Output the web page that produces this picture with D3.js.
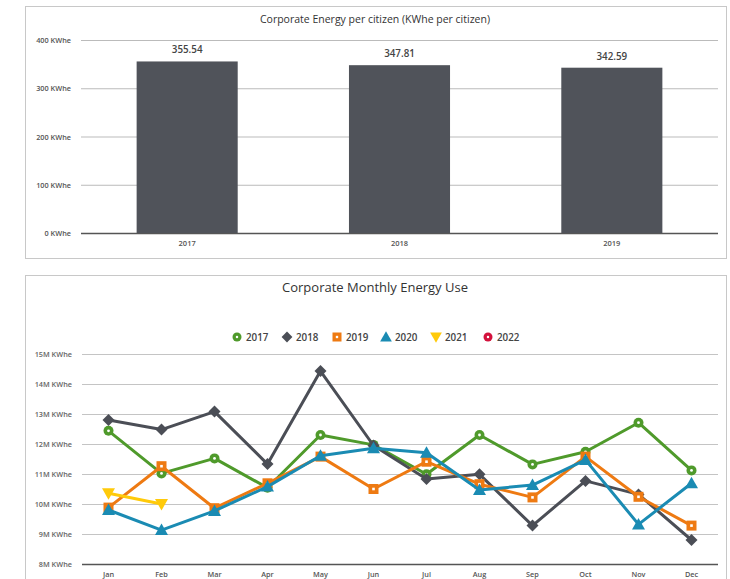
<!DOCTYPE html>
<html><head><meta charset="utf-8">
<script src="https://cdn.jsdelivr.net/npm/d3@7"></script>
<style>
body{margin:0;background:#fff;font-family:"Open Sans","DejaVu Sans",sans-serif;}
svg{display:block}
</style></head><body>
<svg id="c" width="730" height="579"></svg>
<script>
// ---- Data: top chart ----
const barYears = ["2017","2018","2019"];
const barValues = [355.54, 347.81, 342.59];
const barTicks = [0,100,200,300,400];

// ---- Data: bottom chart ----
const months = ["Jan","Feb","Mar","Apr","May","Jun","Jul","Aug","Sep","Oct","Nov","Dec"];
const lineYears = ["2017","2018","2019","2020","2021","2022"];
const s2017 = [12.44,11.02,11.52,10.54,12.30,11.97,10.99,12.30,11.32,11.74,12.71,11.12];
const s2018 = [12.80,12.48,13.08,11.33,14.43,11.95,10.83,10.99,9.28,10.77,10.32,8.80];
const s2019 = [9.88,11.26,9.86,10.69,11.58,10.50,11.41,10.66,10.22,11.58,10.24,9.28];
const s2020 = [9.80,9.13,9.77,10.58,11.61,11.86,11.71,10.47,10.63,11.47,9.32,10.69];
const s2021 = [10.36,10.00];
const s2022 = [];
const lineTicks = [8,9,10,11,12,13,14,15];

const colors = ["#4f9a2b","#4b4e56","#ee7a12","#1a8bb3","#ffca0a","#d3113c"];
const symbols = ["circle","diamond","square","triangle","triangleDown","circle"];
const seriesData = [s2017,s2018,s2019,s2020,s2021,s2022];

const svg = d3.select("#c");

// ---------- Top panel ----------
svg.append("rect").attr("x",25.5).attr("y",6.5).attr("width",701).attr("height",252)
  .attr("fill","#fff").attr("stroke","#c8c8c8");
svg.append("text").attr("x",375).attr("y",23).attr("text-anchor","middle")
  .attr("font-size",10.5).attr("fill","#333").text("Corporate Energy per citizen (KWhe per citizen)");

const tx = d3.scaleBand().domain(barYears).range([81,718]).paddingInner(0.524).paddingOuter(0.262);
const ty = d3.scaleLinear().domain([0,400]).range([233,40]);

const tg = svg.append("g");
tg.selectAll("line.g").data(barTicks).join("line")
  .attr("x1",81).attr("x2",718).attr("y1",d=>ty(d)+0.5).attr("y2",d=>ty(d)+0.5)
  .attr("stroke",d=>d===0?"#555":"#bbb").attr("stroke-width",d=>d===0?1.5:1);
tg.selectAll("text.t").data(barTicks).join("text")
  .attr("x",71).attr("y",d=>ty(d)+3).attr("text-anchor","end")
  .attr("font-size",7.3).attr("font-weight",600).attr("fill","#555").text(d=>d+" KWhe");
tg.selectAll("rect.b").data(barValues).join("rect")
  .attr("x",(d,i)=>tx(barYears[i])).attr("width",tx.bandwidth())
  .attr("y",d=>ty(d)).attr("height",d=>ty(0)-ty(d)).attr("fill","#50535a");
tg.selectAll("text.v").data(barValues).join("text")
  .attr("x",(d,i)=>tx(barYears[i])+tx.bandwidth()/2).attr("y",d=>ty(d)-8)
  .attr("text-anchor","middle").attr("font-size",9.8).attr("font-weight",600).attr("fill","#444").text(d=>d.toFixed(2));
tg.selectAll("text.c").data(barYears).join("text")
  .attr("x",d=>tx(d)+tx.bandwidth()/2).attr("y",246).attr("text-anchor","middle")
  .attr("font-size",7.5).attr("font-weight",600).attr("fill","#555").text(d=>d);

// ---------- Bottom panel ----------
svg.append("rect").attr("x",25.5).attr("y",275.5).attr("width",701).attr("height",320)
  .attr("fill","#fff").attr("stroke","#c8c8c8");
svg.append("text").attr("x",375).attr("y",292).attr("text-anchor","middle")
  .attr("font-size",13).attr("fill","#333").text("Corporate Monthly Energy Use");

const bx = d3.scaleBand().domain(months).range([82,718]);
const by = d3.scaleLinear().domain([8,15]).range([564,354]);
const cx = m => bx(m)+bx.bandwidth()/2;

const bg = svg.append("g");
bg.selectAll("line.g").data(lineTicks).join("line")
  .attr("x1",82).attr("x2",718).attr("y1",d=>by(d)+0.5).attr("y2",d=>by(d)+0.5)
  .attr("stroke",d=>d===8?"#555":"#c4c4c4").attr("stroke-width",d=>d===8?1.5:1.2);
bg.selectAll("text.t").data(lineTicks).join("text")
  .attr("x",72).attr("y",d=>by(d)+3).attr("text-anchor","end")
  .attr("font-size",7.3).attr("font-weight",600).attr("fill","#666").text(d=>d+"M KWhe");
bg.selectAll("text.m").data(months).join("text")
  .attr("x",d=>cx(d)).attr("y",577).attr("text-anchor","middle")
  .attr("font-size",7.3).attr("font-weight",600).attr("fill","#555").text(d=>d);

function drawMarker(g, type, x, y, col, s){
  s = s||1;
  if(type==="circle"){
    g.append("circle").attr("cx",x).attr("cy",y).attr("r",5*s).attr("fill",col);
    g.append("circle").attr("cx",x).attr("cy",y).attr("r",1.4*s).attr("fill","#fff");
  } else if(type==="square"){
    g.append("rect").attr("x",x-5*s).attr("y",y-5*s).attr("width",10*s).attr("height",10*s).attr("fill",col);
    g.append("rect").attr("x",x-1.3*s).attr("y",y-1.3*s).attr("width",2.6*s).attr("height",2.6*s).attr("fill","#fff");
  } else if(type==="diamond"){
    g.append("path").attr("d",`M${x},${y-6*s}L${x+6*s},${y}L${x},${y+6*s}L${x-6*s},${y}Z`).attr("fill",col);
  } else if(type==="triangle"){
    g.append("path").attr("d",`M${x},${y-6.5*s}L${x+6.5*s},${y+5*s}L${x-6.5*s},${y+5*s}Z`).attr("fill",col);
  } else if(type==="triangleDown"){
    g.append("path").attr("d",`M${x-6.5*s},${y-5*s}L${x+6.5*s},${y-5*s}L${x},${y+6.5*s}Z`).attr("fill",col);
  }
}

const line = d3.line().x((d,i)=>cx(months[i])).y(d=>by(d));
seriesData.forEach((arr,k)=>{
  if(!arr.length) return;
  const g = bg.append("g");
  g.append("path").attr("d",line(arr)).attr("fill","none")
    .attr("stroke",colors[k]).attr("stroke-width",3).attr("stroke-linejoin","round");
  arr.forEach((v,i)=>drawMarker(g,symbols[k],cx(months[i]),by(v),colors[k]));
});

// legend
const legX = [237,287,337,386,436,488];
const lg = svg.append("g");
lineYears.forEach((y,k)=>{
  drawMarker(lg,symbols[k],legX[k],337,colors[k],0.9);
  lg.append("text").attr("x",legX[k]+9).attr("y",341).attr("font-size",9.8).attr("font-weight",600)
    .attr("fill","#444").text(y);
});
</script>
</body></html>
